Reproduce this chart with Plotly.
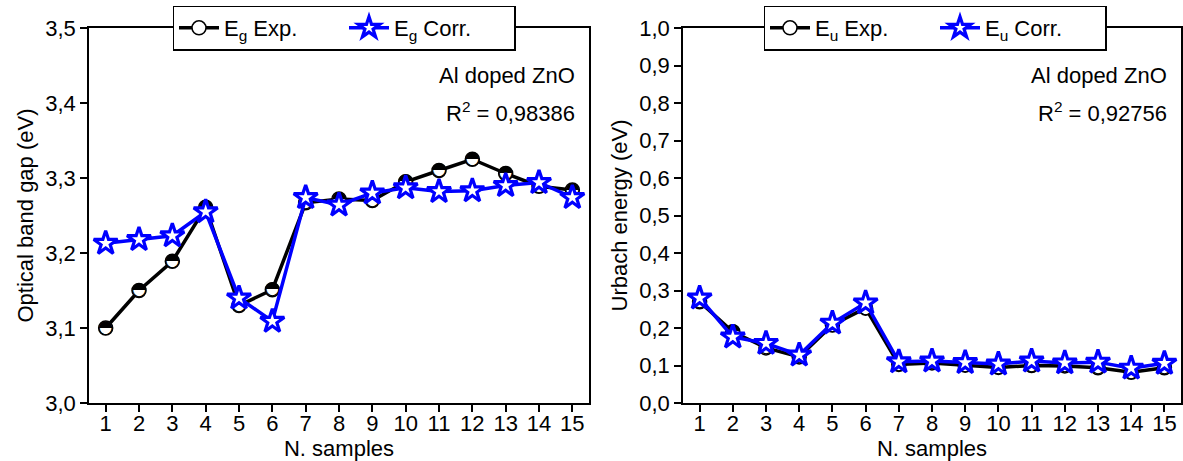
import plotly.graph_objects as go

samples = list(range(1, 16))
eg_exp = [3.100, 3.150, 3.189, 3.261, 3.130, 3.151, 3.267, 3.272, 3.270, 3.295, 3.310, 3.325, 3.306, 3.289, 3.284]
eg_corr = [3.213, 3.218, 3.223, 3.255, 3.140, 3.109, 3.274, 3.264, 3.280, 3.287, 3.282, 3.283, 3.290, 3.294, 3.274]
eu_exp = [0.270, 0.190, 0.147, 0.123, 0.208, 0.253, 0.103, 0.107, 0.101, 0.095, 0.100, 0.099, 0.094, 0.082, 0.094]
eu_corr = [0.280, 0.176, 0.159, 0.128, 0.213, 0.267, 0.110, 0.112, 0.108, 0.104, 0.112, 0.107, 0.109, 0.093, 0.106]

FONT = "Liberation Sans, Arial, sans-serif"
W, H = 1183, 461

fig = go.Figure()

exp_marker = dict(symbol="circle", size=14, color="white",
                  line=dict(color="black", width=1.5))
corr_marker = dict(symbol="star", size=18, color="white",
                   line=dict(color="#0000ff", width=3.2))
half_font = dict(family="DejaVu Sans", size=18, color="black")


def add_pair(xa, ya, leg, exp_vals, corr_vals, sub):
    fig.add_trace(go.Scatter(x=samples, y=exp_vals, mode="lines+markers",
                             name="E<sub>%s</sub> Exp." % sub,
                             line=dict(color="black", width=3.5), marker=exp_marker,
                             xaxis=xa, yaxis=ya, legend=leg))
    fig.add_trace(go.Scatter(x=samples, y=exp_vals, mode="text", text=["◓"] * len(samples),
                             textposition="middle center", textfont=half_font,
                             showlegend=False, hoverinfo="skip",
                             xaxis=xa, yaxis=ya))
    fig.add_trace(go.Scatter(x=samples, y=corr_vals, mode="lines+markers",
                             name="E<sub>%s</sub> Corr." % sub,
                             line=dict(color="#0000ff", width=3.5), marker=corr_marker,
                             xaxis=xa, yaxis=ya, legend=leg))


add_pair("x", "y", "legend", eg_exp, eg_corr, "g")
add_pair("x2", "y2", "legend2", eu_exp, eu_corr, "u")

ydom = [(H - 403) / H, (H - 28) / H]
x1dom = [89 / W, 589 / W]
x2dom = [683 / W, 1181 / W]

axis_common = dict(showline=True, linecolor="black", linewidth=1.5, mirror=True,
                   ticks="outside", ticklen=7, tickwidth=1.5, tickcolor="black",
                   showgrid=False, zeroline=False, automargin=False,
                   tickfont=dict(family=FONT, size=22, color="black"))
xaxis_extra = dict(range=[0.5, 15.5], tickmode="array", tickvals=samples, ticklabelstandoff=-7)
yaxis_extra = dict(dtick=0.1, tickformat=".1f")

fig.update_layout(
    width=W, height=H, autosize=False,
    margin=dict(l=0, r=0, t=0, b=0),
    paper_bgcolor="white", plot_bgcolor="white",
    separators=",.",
    font=dict(family=FONT, size=22, color="black"),
    xaxis=dict(domain=x1dom, anchor="y",
               title=dict(text="N. samples", font=dict(family=FONT, size=22), standoff=0),
               **xaxis_extra, **axis_common),
    yaxis=dict(domain=ydom, range=[3.0, 3.5], anchor="x",
               title=dict(text="Optical band gap (eV)", font=dict(family=FONT, size=22), standoff=6),
               **yaxis_extra, **axis_common),
    xaxis2=dict(domain=x2dom, anchor="y2",
                title=dict(text="N. samples", font=dict(family=FONT, size=22), standoff=0),
                **xaxis_extra, **axis_common),
    yaxis2=dict(domain=ydom, range=[0.0, 1.0], anchor="x2",
                title=dict(text="Urbach energy (eV)", font=dict(family=FONT, size=22), standoff=6),
                **yaxis_extra, **axis_common),
    legend=dict(orientation="h", x=344 / W, xanchor="center", y=(H - 28) / H, yanchor="middle",
                bgcolor="white", bordercolor="black", borderwidth=1.5,
                font=dict(family=FONT, size=22), entrywidth=115, itemwidth=40),
    legend2=dict(orientation="h", x=935 / W, xanchor="center", y=(H - 28) / H, yanchor="middle",
                 bgcolor="white", bordercolor="black", borderwidth=1.5,
                 font=dict(family=FONT, size=22), entrywidth=115, itemwidth=40),
    showlegend=True,
)

ann_font = dict(family=FONT, size=22, color="black")
for xr, yr, r2 in [("x domain", "y domain", "0,98386"), ("x2 domain", "y2 domain", "0,92756")]:
    fig.add_annotation(xref=xr, yref=yr, x=0.975, y=(403 - 75) / 375, xanchor="right", yanchor="middle",
                       text="Al doped ZnO", showarrow=False, font=ann_font)
    fig.add_annotation(xref=xr, yref=yr, x=0.975, y=(403 - 112) / 375, xanchor="right", yanchor="middle",
                       text="R<sup>2</sup> = " + r2, showarrow=False, font=ann_font)

fig.write_html("out.html")
